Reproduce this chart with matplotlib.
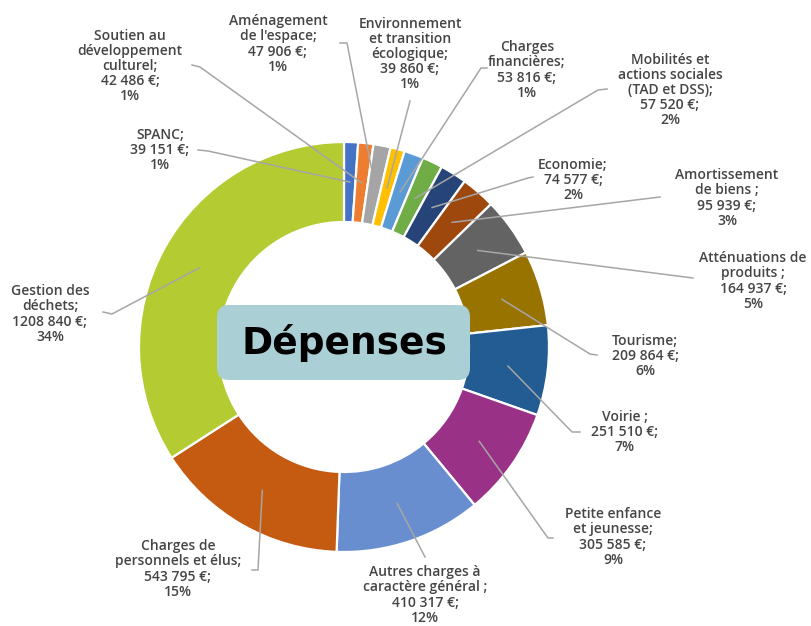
import matplotlib
matplotlib.use("Agg")
import matplotlib.pyplot as plt
from matplotlib.patches import FancyBboxPatch
import numpy as np

# ---- data ----
categories = [
    "SPANC", "Soutien au développement culturel", "Aménagement de l'espace",
    "Environnement et transition écologique", "Charges financières",
    "Mobilités et actions sociales (TAD et DSS)", "Economie",
    "Amortissement de biens", "Atténuations de produits", "Tourisme",
    "Voirie", "Petite enfance et jeunesse",
    "Autres charges à caractère général", "Charges de personnels et élus",
    "Gestion des déchets",
]
values = [39151, 42486, 47906, 39860, 53816, 57520, 74577, 95939, 164937,
          209864, 251510, 305585, 410317, 543795, 1208840]
label_texts = [
    "SPANC;\n39 151 €;\n1%",
    "Soutien au\ndéveloppement\nculturel;\n42 486 €;\n1%",
    "Aménagement\nde l'espace;\n47 906 €;\n1%",
    "Environnement\net transition\nécologique;\n39 860 €;\n1%",
    "Charges\nfinancières;\n53 816 €;\n1%",
    "Mobilités et\nactions sociales\n(TAD et DSS);\n57 520 €;\n2%",
    "Economie;\n74 577 €;\n2%",
    "Amortissement\nde biens ;\n95 939 €;\n3%",
    "Atténuations de\nproduits ;\n164 937 €;\n5%",
    "Tourisme;\n209 864 €;\n6%",
    "Voirie ;\n251 510 €;\n7%",
    "Petite enfance\net jeunesse;\n305 585 €;\n9%",
    "Autres charges à\ncaractère général ;\n410 317 €;\n12%",
    "Charges de\npersonnels et élus;\n543 795 €;\n15%",
    "Gestion des\ndéchets;\n1208 840 €;\n34%",
]
colors = ["#4472C4", "#ED7D31", "#A5A5A5", "#FFC000", "#5B9BD5", "#70AD47",
          "#264478", "#9E480E", "#636363", "#997300", "#235B93", "#993286",
          "#698ED0", "#C55A11", "#B4CB32"]
title_text = "Dépenses"

# ---- layout (pixel coordinates, y measured from top) ----
W, H = 811, 626
label_pos = [(160, 150), (130, 66), (278, 44), (410, 54), (527, 70),
             (670, 90), (573, 180), (727, 198), (753, 281), (645, 356),
             (625, 432), (613, 537), (425, 595), (178, 569), (50, 314)]
line_start = [[(198, 150), (208, 151)], [(192, 65), (200, 67)],
              [(340, 43), (347, 43)], [(410, 101)], [(487, 68), (481, 68)],
              [(607, 89), (598, 90)], [(533, 177), (528, 178)],
              [(660, 197)], [(693, 278)], [(597, 355), (590, 354)],
              [(580, 432), (572, 432)], [(553, 538), (548, 538)],
              [(425, 557)], [(252, 570), (258, 570)],
              [(103, 312), (112, 314)]]

def P(x, y):
    return (x, H - y)

fig = plt.figure(figsize=(W / 100, H / 100), dpi=100)
ax = fig.add_axes([0, 0, 1, 1])
cx, cy = P(344, 347)
R = 205
ring = 80
wedges, _ = ax.pie(values, colors=colors, startangle=90, counterclock=False,
                   center=(cx, cy), radius=R, frame=True,
                   wedgeprops=dict(width=ring, edgecolor="white", linewidth=1.6))
ax.set_xlim(0, W)
ax.set_ylim(0, H)
ax.set_aspect("equal")
ax.axis("off")

rmid = R - ring / 2
for w, txt, lp, ls in zip(wedges, label_texts, label_pos, line_start):
    th = np.deg2rad((w.theta1 + w.theta2) / 2)
    end = (cx + rmid * np.cos(th), cy + rmid * np.sin(th))
    pts = [P(*p) for p in ls] + [end]
    xs, ys = zip(*pts)
    ax.plot(xs, ys, color="#A6A6A6", lw=1.1, zorder=3)
    ax.text(*P(*lp), txt, ha="center", va="center", fontsize=10,
            family=["Open Sans", "DejaVu Sans"], fontweight="semibold",
            color="#454545", linespacing=1.1, zorder=4)

# centre box
bx0, by0, bx1, by1 = 217, 305, 470, 380
box = FancyBboxPatch(P(bx0 + 12, by1 - 12), (bx1 - bx0) - 24, (by1 - by0) - 24,
                     boxstyle="round,pad=12", facecolor="#AAD0D5",
                     edgecolor="none", zorder=5)
ax.add_patch(box)
ax.text(*P((bx0 + bx1) / 2 + 1, (by0 + by1) / 2 + 1), title_text, ha="center",
        va="center", fontsize=27, family=["DejaVu Sans"],
        fontweight="bold", color="black", zorder=6)

fig.savefig("out.png", dpi=100)
